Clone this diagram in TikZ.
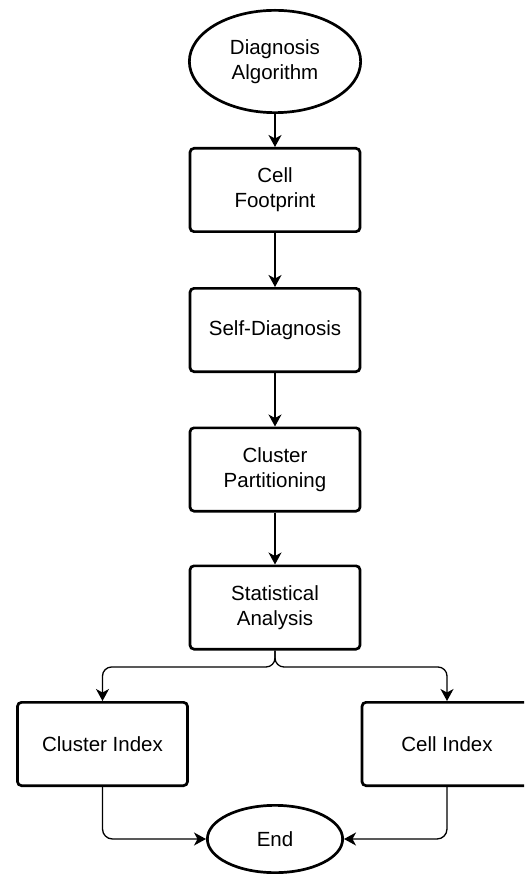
\documentclass[tikz,border=0pt]{standalone}
\usepackage{fontspec}
\setmainfont{Liberation Sans}
\usetikzlibrary{shapes.geometric,arrows.meta}
\begin{document}
\begin{tikzpicture}[x=1pt,y=-1pt,
  every node/.style={font=\fontsize{20.5pt}{25pt}\selectfont, align=center, inner sep=0pt},
  procbox/.style={draw, line width=2.7pt, rounded corners=4pt, minimum width=170pt, minimum height=83.3pt, fill=white},
  termnode/.style={draw, ellipse, line width=2.7pt, fill=white},
  conn/.style={line width=1.3pt, -{Stealth[length=12pt,width=13pt,inset=3.5pt]}},
]
\useasboundingbox (0,0) rectangle (524,874);
\clip (0,0) rectangle (524,874);
\node[termnode, minimum width=171.3pt, minimum height=102.3pt] (dx) at (275,61.5) {Diagnosis\\Algorithm};
\node[procbox] (cf) at (275,190) {Cell\\Footprint};
\node[procbox] (sd) at (275,330) {Self-Diagnosis};
\node[procbox] (cp) at (275,469.5) {Cluster\\Partitioning};
\node[procbox] (st) at (275,607.5) {Statistical\\Analysis};
\node[procbox] (ci) at (102.5,744) {Cluster Index};
\node[procbox] (ce) at (447,744) {Cell Index};
\node[termnode, minimum width=135.3pt, minimum height=67.3pt] (en) at (275,839) {End};
\coordinate (fork) at (275,667);
\draw[conn] (dx.south) -- (cf.north);
\draw[conn] (cf.south) -- (sd.north);
\draw[conn] (sd.south) -- (cp.north);
\draw[conn] (cp.south) -- (st.north);
\draw[conn, rounded corners=9pt] (st.south) -- (fork) -| (ci.north);
\draw[conn, rounded corners=9pt] (st.south) -- (fork) -| (ce.north);
\draw[conn, rounded corners=10pt] (ci.south) |- (en.west);
\draw[conn, rounded corners=10pt] (ce.south) |- (en.east);
\end{tikzpicture}
\end{document}
